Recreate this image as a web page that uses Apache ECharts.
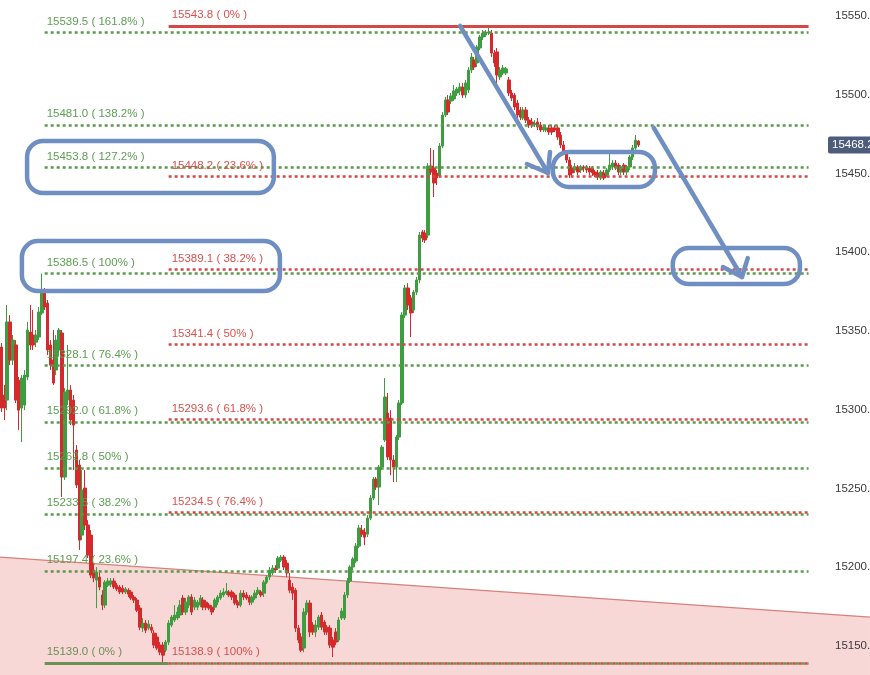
<!DOCTYPE html>
<html><head><meta charset="utf-8">
<script src="https://cdn.jsdelivr.net/npm/echarts@6/dist/echarts.min.js"></script>
<style>html,body{margin:0;padding:0;background:#fff}#c{width:870px;height:675px}</style>
</head><body><div id="c"></div>
<script>
// OHLC candles: [open, close, low, high]
const segDecline = [
[15339.8,15301.0,15298.5,15342.3],[15309.3,15301.0,15293.4,15315.6],[15306.1,15355.7,15299.7,15366.5],
[15355.7,15331.5,15328.3,15360.1],[15331.5,15344.2,15328.3,15347.4],[15341.1,15306.1,15304.2,15344.2],
[15318.8,15299.7,15287.0,15320.7],[15301.0,15320.1,15279.4,15322.0],[15302.9,15322.0,15299.7,15325.2],
[15320.7,15350.6,15318.8,15355.7],[15349.3,15341.1,15337.9,15366.5],[15347.4,15341.1,15337.9,15363.3],
[15342.9,15347.4,15339.8,15350.6],[15346.1,15362.0,15344.2,15365.2],[15361.4,15374.1,15360.1,15386.5],
[15374.1,15365.2,15363.3,15377.3],[15367.7,15337.9,15334.7,15369.7],[15341.1,15328.3,15325.2,15344.2],
[15331.5,15316.9,15315.6,15350.6],[15325.2,15344.2,15322.0,15347.4],[15337.9,15350.6,15334.7,15351.9],
[15348.7,15257.2,15244.5,15350.6],[15257.2,15311.2,15255.3,15313.7],[15306.1,15312.5,15302.9,15341.1],
[15312.5,15293.4,15290.2,15315.6],[15306.1,15290.2,15261.6,15309.3],[15274.3,15252.1,15250.2,15277.5],
[15264.8,15217.1,15210.8,15268.0],[15220.3,15248.9,15217.1,15261.6],[15250.2,15226.7,15223.5,15261.6],
[15226.7,15207.6,15205.7,15229.8],[15220.3,15194.9,15193.0,15223.5],[15198.1,15193.0,15190.4,15202.5],
[15191.7,15196.8,15173.9,15200.0],[15193.6,15187.3,15185.3,15198.1],[15182.2,15175.8,15172.6,15185.3],
[15175.8,15190.4,15173.9,15191.7],[15188.5,15191.1,15187.3,15193.0],[15189.2,15191.1,15187.3,15193.0],
[15191.1,15187.3,15186.0,15193.0],[15188.5,15186.0,15184.7,15189.8],[15187.3,15184.1,15182.8,15188.5],
[15186.6,15184.1,15182.8,15188.5],[15184.1,15186.0,15182.8,15187.3],[15185.3,15182.8,15180.9,15186.6],
[15184.1,15180.3,15179.0,15185.3],[15180.9,15179.0,15177.1,15182.2],[15179.0,15172.6,15171.4,15180.3],
[15173.9,15161.8,15159.9,15175.8],[15161.2,15164.4,15158.7,15167.6],[15164.4,15159.9,15158.0,15166.3],
[15161.2,15163.8,15159.9,15166.3],[15161.8,15159.9,15158.0,15163.8],[15158.0,15150.4,15148.5,15159.9],
[15155.5,15148.5,15147.2,15158.0],[15150.4,15145.9,15144.0,15152.3],[15150.4,15144.0,15138.9,15152.3]
];
const segBase = [
[15147.2,15152.3,15145.9,15153.6],[15152.3,15164.4,15150.4,15166.3],[15163.1,15168.2,15161.8,15169.5],
[15166.3,15169.5,15165.0,15175.8],[15167.6,15171.4,15166.3,15174.5],[15169.5,15175.8,15167.6,15179.0],
[15180.3,15171.4,15169.5,15182.2],[15171.4,15177.7,15169.5,15180.3],[15175.8,15180.9,15173.9,15182.2],
[15180.9,15171.4,15169.5,15182.8],[15174.5,15179.0,15172.6,15180.9],[15174.5,15177.7,15172.6,15179.0],
[15175.8,15180.3,15174.5,15182.2],[15179.0,15174.5,15172.6,15180.9],[15177.7,15174.5,15172.6,15179.0],
[15175.8,15173.9,15172.6,15177.1],[15174.5,15171.4,15169.5,15175.8],[15174.5,15179.0,15172.6,15180.3],
[15177.7,15180.9,15175.8,15182.2],[15180.3,15183.4,15179.0,15185.3],[15182.2,15184.1,15180.9,15186.6],
[15183.4,15184.7,15182.2,15189.8],[15184.1,15182.2,15180.9,15185.3],[15184.1,15180.9,15179.0,15185.3],
[15182.2,15177.1,15175.8,15183.4],[15177.7,15175.8,15173.9,15179.0],[15175.8,15183.4,15174.5,15185.3],
[15183.4,15180.9,15179.0,15185.3],[15182.2,15180.3,15179.0,15184.1],[15180.9,15177.7,15175.8,15182.2],
[15177.7,15180.9,15175.8,15182.2],[15180.3,15183.4,15179.0,15185.3],[15183.4,15185.3,15182.2,15187.3],
[15184.1,15182.2,15180.9,15185.3],[15183.4,15190.4,15180.9,15191.7],[15190.4,15193.6,15189.2,15194.9],
[15193.6,15198.1,15191.7,15200.0],[15196.2,15199.3,15194.9,15201.2],[15199.3,15198.1,15196.2,15201.2],
[15199.3,15205.7,15198.1,15207.0],[15204.4,15206.3,15203.2,15207.6],[15206.3,15200.0,15198.1,15207.6],
[15202.5,15196.2,15193.6,15204.4],[15191.7,15185.3,15183.4,15196.2],[15187.3,15183.4,15179.0,15189.8],
[15185.3,15161.2,15158.7,15186.6],[15161.2,15153.6,15151.7,15163.1],[15155.5,15147.2,15145.9,15158.0]
];
const segRally = [
[15148.5,15171.4,15145.9,15173.9],[15171.4,15177.1,15169.5,15179.0],[15177.1,15158.7,15155.5,15179.0],
[15163.1,15158.7,15156.8,15165.0],[15158.7,15163.1,15155.5,15166.3],[15161.8,15168.2,15159.9,15169.5],
[15169.5,15161.8,15159.9,15171.4],[15165.0,15158.7,15156.8,15166.3],[15161.8,15158.7,15156.8,15163.1],
[15161.2,15150.4,15148.5,15163.1],[15153.6,15149.1,15142.8,15155.5],[15158.7,15152.3,15150.4,15161.2],
[15153.6,15166.3,15152.3,15168.2],[15167.6,15172.0,15166.3,15173.9],[15167.6,15182.2,15166.3,15184.1],
[15182.2,15191.1,15180.3,15193.0],[15191.1,15200.0,15189.8,15201.2],[15200.0,15205.1,15198.1,15206.3],
[15203.8,15213.3,15202.5,15215.2],[15213.3,15224.8,15212.0,15226.7],[15223.5,15220.9,15219.0,15226.7],
[15222.2,15219.0,15213.9,15224.8],[15220.9,15231.1,15219.0,15233.0],[15231.1,15243.8,15229.8,15245.7],
[15243.8,15255.9,15242.5,15257.2],[15255.9,15250.8,15248.9,15257.2],[15250.8,15263.5,15239.4,15264.8],
[15263.5,15276.2,15261.6,15277.5],[15280.7,15308.0,15279.4,15320.1],[15297.8,15269.9,15268.0,15310.6],
[15294.7,15268.0,15258.4,15299.7],[15268.0,15263.5,15254.0,15271.1],[15263.5,15282.6,15254.0,15283.9],
[15282.6,15304.2,15280.7,15306.1],[15304.2,15360.1,15302.9,15362.0],[15360.1,15377.3,15358.2,15379.2],
[15377.3,15366.5,15363.3,15380.4],[15370.9,15361.4,15346.1,15372.8],[15363.3,15374.7,15361.4,15376.0],
[15374.7,15382.4,15372.8,15384.3],[15382.4,15410.9,15380.4,15412.9],[15412.9,15409.0,15406.5,15414.1],
[15412.2,15407.8,15405.9,15414.1],[15410.9,15454.8,15409.0,15456.7],[15454.8,15451.0,15449.1,15466.2],
[15453.5,15444.0,15435.1,15465.0],[15450.4,15447.2,15442.7,15452.3],[15448.5,15467.5,15447.2,15469.4],
[15467.5,15487.2,15466.2,15489.1],[15487.2,15496.8,15485.9,15498.7],[15496.8,15489.1,15487.2,15499.9],
[15496.1,15499.3,15494.2,15501.2],[15497.4,15502.5,15496.1,15506.3],[15501.2,15503.7,15499.3,15505.0],
[15502.5,15505.0,15499.9,15507.6],[15505.0,15499.9,15498.0,15507.6],[15499.9,15507.6,15498.0,15509.5],
[15503.1,15515.8,15501.2,15517.7],[15515.8,15524.1,15513.9,15526.6],[15522.2,15517.7,15515.8,15524.1],
[15520.3,15530.4,15517.7,15531.7],[15529.8,15536.8,15528.5,15538.1],[15536.8,15539.3,15534.9,15541.2],
[15538.1,15540.0,15536.8,15541.2],[15539.3,15540.0,15538.1,15543.8]
];
const segPullback = [
[15539.3,15526.6,15524.1,15541.2],[15526.6,15520.3,15517.7,15528.5],[15527.3,15512.6,15506.3,15529.8],
[15511.4,15515.8,15509.5,15517.7],[15513.9,15517.1,15512.6,15519.0],[15513.9,15516.5,15512.6,15517.7],
[15509.5,15501.2,15499.3,15511.4],[15501.2,15498.0,15496.1,15503.1],[15499.9,15492.3,15490.4,15501.2],
[15494.8,15487.2,15485.3,15496.8],[15490.4,15485.9,15484.0,15492.3],[15485.3,15490.4,15484.0,15492.3],
[15490.4,15484.0,15482.1,15492.3],[15484.0,15480.9,15479.0,15485.9],[15482.8,15480.9,15479.0,15485.3],
[15480.9,15482.1,15479.6,15484.0],[15482.8,15479.6,15477.7,15485.3],[15480.9,15477.7,15476.4,15482.8],
[15477.7,15479.6,15476.4,15480.9],[15477.7,15479.0,15476.4,15480.9],[15479.0,15476.4,15474.5,15480.9],
[15479.0,15476.4,15474.5,15480.9],[15479.0,15477.7,15476.4,15480.9],[15479.0,15473.2,15471.3,15480.9],
[15474.5,15468.2,15466.2,15476.4],[15468.2,15463.7,15461.8,15470.7],[15463.1,15458.6,15456.7,15465.0],
[15458.6,15449.1,15447.2,15460.5],[15453.5,15450.4,15447.8,15455.4],[15452.3,15454.2,15450.4,15456.7],
[15454.2,15451.0,15449.1,15455.4],[15452.3,15454.2,15450.4,15455.4],[15454.2,15453.5,15451.0,15455.4],
[15454.2,15452.3,15450.4,15455.4],[15453.5,15451.0,15449.1,15454.8],[15453.5,15450.4,15448.5,15454.8],
[15451.0,15449.1,15447.8,15452.3],[15450.4,15447.8,15445.9,15452.3],[15447.2,15451.0,15445.9,15452.3],
[15450.4,15447.2,15445.9,15452.3],[15449.1,15452.3,15447.8,15453.5],[15452.3,15455.4,15451.0,15463.1],
[15454.2,15456.7,15452.3,15458.6],[15456.7,15453.5,15452.3,15458.6],[15455.4,15451.0,15449.1,15456.7],
[15451.0,15454.2,15449.1,15455.4],[15455.4,15451.0,15449.1,15456.7],[15451.0,15454.2,15449.1,15455.4],
[15454.2,15460.5,15452.3,15461.8],[15460.5,15466.2,15458.6,15468.2],[15466.2,15471.3,15465.0,15474.5],
[15470.7,15468.2,15466.9,15471.3]
];
const ohlc = [...segDecline, ...segBase, ...segRally, ...segPullback];

const totalSlots = 281;
const categories = Array.from({length: totalSlots}, (_, i) => 'k' + i);
const yTicks = [15150, 15200, 15250, 15300, 15350, 15400, 15450, 15500, 15550];
const yMin = 15131.4, yMax = 15560.3;

const greenFibValues = [15539.5, 15481.0, 15453.8, 15386.5, 15328.1, 15292.0, 15262.8, 15233.5, 15197.4, 15139.0];
const greenFibPcts = ['161.8%', '138.2%', '127.2%', '100%', '76.4%', '61.8%', '50%', '38.2%', '23.6%', '0%'];
const redFibValues = [15543.8, 15448.2, 15389.1, 15341.4, 15293.6, 15234.5, 15138.9];
const redFibPcts = ['0%', '23.6%', '38.2%', '50%', '61.8%', '76.4%', '100%'];
const greenFibStart = 15, redFibStart = 58, fibEnd = 280;

// hand-drawn annotations in data space: [idxFrom, idxTo, priceTop, priceBottom]
const boxes = [[8.9, 94.5, 15470.7, 15437.6], [7.1, 96.6, 15407.1, 15375.4], [191.3, 226.7, 15463.7, 15441.5], [232.9, 277.0, 15402.7, 15379.8]];
const arrowStarts = [[159.1, 15543.8], [226.3, 15479.0]];
const arrowTips = [[189.6, 15450.4], [256.9, 15384.3]];
const arrowWingsA = [[182.3, 15456.1], [250.3, 15390.6]];
const arrowWingsB = [[190.3, 15463.7], [258.9, 15396.3]];
const trendLine = [[-0.5, 15206.3], [301.3, 15168.2]];

const GREEN_TXT = '#5d9e52', GREEN_LN = '#5a9a4c', RED_TXT = '#d9514e', RED_LN = '#d44848';
const FONT = 'Liberation Sans, Arial, sans-serif';

function fibPair(start, v, text, lnColor, txtColor, type, width, showLabel, offset, lblOffset) {
  return [
    {coord: [categories[start], v],
     lineStyle: {color: lnColor, type: type, width: width, dashOffset: offset || 0},
     label: {show: showLabel, formatter: text, color: txtColor, offset: lblOffset}},
    {coord: [categories[fibEnd], v]}
  ];
}
const markData = [];
greenFibValues.forEach((v, i) => {
  const txt = v.toFixed(1) + ' ( ' + greenFibPcts[i] + ' )';
  if (greenFibPcts[i] === '0%') {
    markData.push([{coord: [categories[greenFibStart], v], lineStyle: {color: '#6b9156', type: 'solid', width: 3}, label: {show: true, formatter: txt, color: '#6b9156', offset: [-3, 0]}}, {coord: [categories[redFibStart], v]}]);
    markData.push(fibPair(redFibStart, v, '', GREEN_LN, GREEN_TXT, [3, 3], 2.5, false, 3, [0, 0]));
  } else {
    markData.push(fibPair(greenFibStart, v, txt, GREEN_LN, GREEN_TXT, [3, 3], 2.5, true, 0, [-3, 0]));
  }
});
redFibValues.forEach((v, i) => {
  const txt = v.toFixed(1) + ' ( ' + redFibPcts[i] + ' )';
  const solid = redFibPcts[i] === '0%';
  markData.push(fibPair(redFibStart, v, txt, RED_LN, RED_TXT, solid ? 'solid' : [3, 3], solid ? 3 : 2.5, true, 0, [-2, 0]));
});

const chart = echarts.init(document.getElementById('c'), null, {renderer: 'canvas'});
chart.setOption({
  animation: false,
  backgroundColor: '#ffffff',
  grid: {left: 0, right: 60, top: 0, bottom: 0, containLabel: false, outerBoundsMode: 'none'},
  xAxis: [
    {type: 'category', data: categories, boundaryGap: true, show: false},
    {type: 'value', min: -0.5, max: totalSlots - 0.5, show: false}
  ],
  yAxis: {
    type: 'value', position: 'right', min: yMin, max: yMax, scale: true,
    axisLine: {show: false}, axisTick: {show: false}, splitLine: {show: false},
    axisLabel: {
      show: true, margin: 25, color: '#3a3a3a', fontSize: 11.5, fontFamily: FONT,
      customValues: yTicks, formatter: v => Number(v).toFixed(1)
    }
  },
  series: [{
    type: 'candlestick',
    data: ohlc,
    barWidth: 3,
    itemStyle: {color: '#3f9c40', color0: '#d52a2b', borderColor: '#3f9c40', borderColor0: '#d52a2b', borderWidth: 1},
    markLine: {
      silent: true, animation: false, symbol: ['none', 'none'],
      label: {position: 'insideStartTop', fontSize: 11.5, fontFamily: FONT, distance: 5},
      data: markData
    }
  }]
});

function px(idx, price) {
  return [chart.convertToPixel({xAxisIndex: 1}, idx), chart.convertToPixel({yAxisIndex: 0}, price)];
}
const BLUE = '#6f8fc2';
const graphics = [];
const t0 = px(trendLine[0][0], trendLine[0][1]);
const t1 = px(trendLine[1][0], trendLine[1][1]);
const bottomY = chart.convertToPixel({yAxisIndex: 0}, yMin);
graphics.push({type: 'polygon', z: -5, silent: true, shape: {points: [t0, t1, [t1[0], bottomY], [t0[0], bottomY]]}, style: {fill: '#f8d7d7'}});
graphics.push({type: 'polyline', z: -4, silent: true, shape: {points: [t0, t1]}, style: {stroke: '#d9807c', lineWidth: 1.2, fill: null}});
boxes.forEach(b => {
  const a = px(b[0], b[2]), c = px(b[1], b[3]);
  graphics.push({type: 'rect', z: 50, silent: true, shape: {x: a[0], y: a[1], width: c[0] - a[0], height: c[1] - a[1], r: 16}, style: {fill: null, stroke: BLUE, lineWidth: 4.5}});
});
arrowStarts.forEach((s, i) => {
  const p0 = px(s[0], s[1]), tip = px(arrowTips[i][0], arrowTips[i][1]);
  const wa = px(arrowWingsA[i][0], arrowWingsA[i][1]), wb = px(arrowWingsB[i][0], arrowWingsB[i][1]);
  graphics.push({type: 'polyline', z: 50, silent: true, shape: {points: [p0, tip]}, style: {stroke: BLUE, lineWidth: 4.5, lineCap: 'round', fill: null}});
  graphics.push({type: 'polyline', z: 50, silent: true, shape: {points: [wa, tip, wb]}, style: {stroke: BLUE, lineWidth: 4.5, lineCap: 'round', lineJoin: 'round', fill: null}});
});
const lastClose = ohlc[ohlc.length - 1][1];
const ly = chart.convertToPixel({yAxisIndex: 0}, lastClose);
const gx = chart.convertToPixel({xAxisIndex: 1}, totalSlots - 0.5);
graphics.push({type: 'rect', z: 60, silent: true, shape: {x: gx + 18, y: ly - 8.5, width: 70, height: 17, r: 2}, style: {fill: '#4d5c7a'}});
graphics.push({type: 'text', z: 61, silent: true, x: gx + 22, y: ly, style: {text: lastClose.toFixed(1), fill: '#ffffff', font: '11.5px ' + FONT, verticalAlign: 'middle'}});
chart.setOption({graphic: {elements: graphics}});
</script>
</body></html>
